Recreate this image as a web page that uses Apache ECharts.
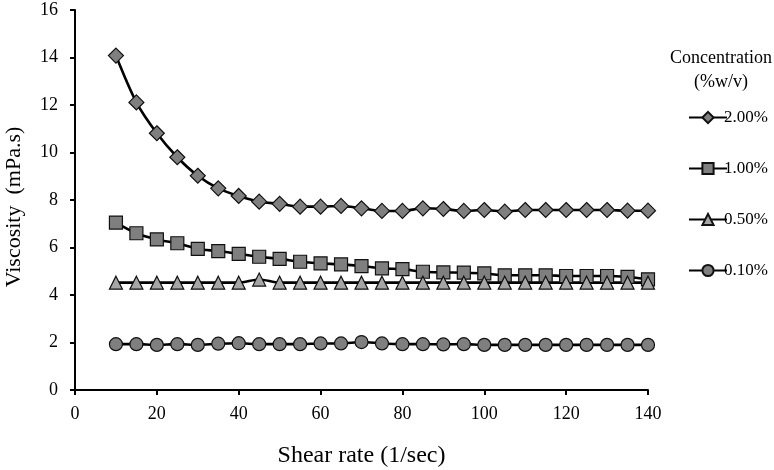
<!DOCTYPE html>
<html>
<head>
<meta charset="utf-8">
<script src="https://cdn.jsdelivr.net/npm/echarts@6/dist/echarts.min.js"></script>
<style>html,body{margin:0;padding:0;background:#fff}#c{width:774px;height:470px}</style>
</head>
<body>
<div id="c"></div>
<script>
var shearRate = [10,15,20,25,30,35,40,45,50,55,60,65,70,75,80,85,90,95,100,105,110,115,120,125,130,135,140];
var conc200 = [14.08,12.11,10.81,9.80,9.02,8.49,8.17,7.93,7.84,7.72,7.72,7.75,7.65,7.54,7.54,7.65,7.62,7.54,7.58,7.51,7.58,7.58,7.58,7.58,7.58,7.55,7.55];
var conc100 = [7.05,6.60,6.34,6.18,5.94,5.85,5.73,5.61,5.52,5.40,5.33,5.29,5.22,5.12,5.09,4.98,4.95,4.94,4.91,4.83,4.83,4.83,4.80,4.80,4.80,4.76,4.66];
var conc050 = [4.52,4.52,4.52,4.52,4.52,4.52,4.52,4.65,4.52,4.52,4.52,4.52,4.52,4.52,4.52,4.52,4.52,4.52,4.52,4.52,4.52,4.52,4.52,4.52,4.52,4.52,4.52];
var conc010 = [1.93,1.93,1.90,1.93,1.90,1.95,1.97,1.93,1.93,1.93,1.96,1.96,2.02,1.96,1.93,1.93,1.92,1.93,1.90,1.90,1.90,1.90,1.90,1.90,1.90,1.90,1.90];
var seriesNames = ['2.00%','1.00%','0.50%','0.10%'];
var xTicks = {min:0, max:140, interval:20};
var yTicks = {min:0, max:16, interval:2};

function pairs(v){ return shearRate.map(function(x,i){return [x, v[i]];}); }
var font = 'Liberation Serif';
var chart = echarts.init(document.getElementById('c'));
function mk(name, data, symbol, size, color){
  return {
    name: name, type: 'line', data: pairs(data), smooth: 0.3,
    symbol: symbol, symbolSize: size, showAllSymbol: true,
    lineStyle: {color: '#000', width: 2.6},
    itemStyle: {color: color, borderColor: '#111', borderWidth: 1.2},
    emphasis: {disabled: true}, animation: false
  };
}
chart.setOption({
  animation: false,
  textStyle: {fontFamily: font, color: '#000'},
  grid: {left: 75, right: 126, top: 10, bottom: 80, containLabel: false, outerBoundsMode: 'none'},
  title: {
    text: 'Concentration\n(%w/v)', left: 716, top: 41, textAlign: 'center',
    textStyle: {fontFamily: font, fontSize: 18, fontWeight: 'normal', color: '#000', lineHeight: 24}
  },
  legend: {
    orient: 'vertical', left: 683, top: 104, itemWidth: 38, itemHeight: 14, itemGap: 34,
    textStyle: {fontFamily: font, fontSize: 17, color: '#000', padding: [0,0,0,-8]},
    data: seriesNames
  },
  xAxis: {
    type: 'value', min: xTicks.min, max: xTicks.max, interval: xTicks.interval,
    name: 'Shear rate (1/sec)', nameLocation: 'middle', nameGap: 54,
    nameTextStyle: {fontFamily: font, fontSize: 24, color: '#000'},
    axisLine: {show: true, lineStyle: {color: '#000', width: 2}},
    axisTick: {show: true, length: 5, lineStyle: {color: '#000', width: 2}},
    axisLabel: {fontFamily: font, fontSize: 18, color: '#000', margin: 15},
    splitLine: {show: false}
  },
  yAxis: {
    type: 'value', min: yTicks.min, max: yTicks.max, interval: yTicks.interval,
    name: 'Viscosity  (mPa.s)', nameLocation: 'middle', nameGap: 50,
    nameTextStyle: {fontFamily: font, fontSize: 22, color: '#000', padding: [0,14,0,0]},
    axisLine: {show: true, lineStyle: {color: '#000', width: 2}},
    axisTick: {show: true, length: 5, lineStyle: {color: '#000', width: 2}},
    axisLabel: {fontFamily: font, fontSize: 18, color: '#000', margin: 17},
    splitLine: {show: false}
  },
  series: [
    mk(seriesNames[0], conc200, 'diamond', 15, '#7f7f7f'),
    mk(seriesNames[1], conc100, 'rect', 13, '#7f7f7f'),
    mk(seriesNames[2], conc050, 'triangle', 13, '#a6a6a6'),
    mk(seriesNames[3], conc010, 'circle', 13, '#7f7f7f')
  ]
});
</script>
</body>
</html>
